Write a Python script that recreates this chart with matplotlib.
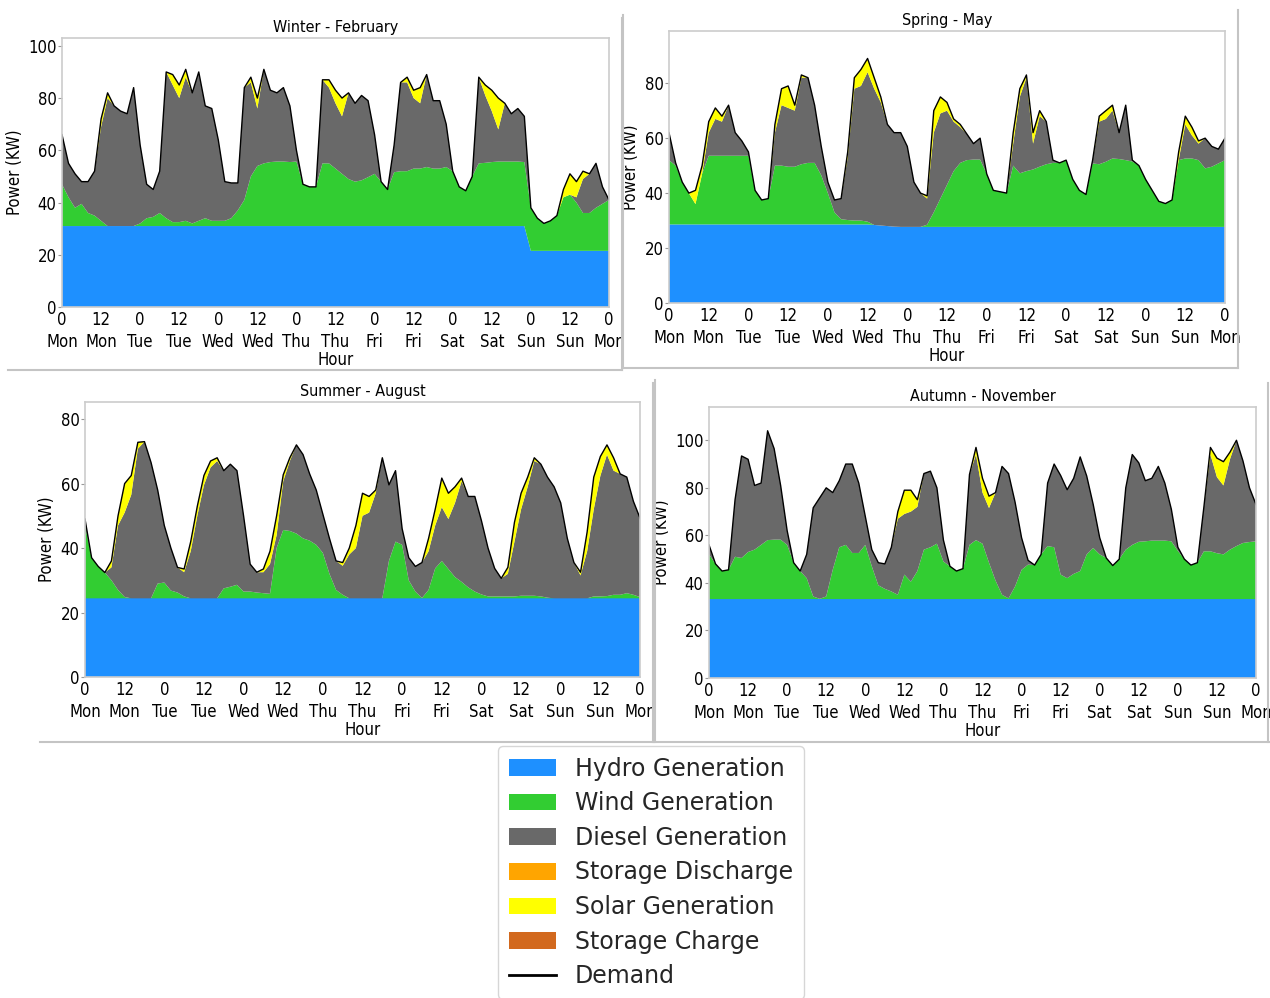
import numpy as np
import matplotlib.pyplot as plt
from matplotlib import font_manager
from matplotlib.patches import Patch
from matplotlib.lines import Line2D

# prefer a narrow face for the axis texts
narrow = [f for f in font_manager.fontManager.ttflist
          if f.name in ('Liberation Sans Narrow', 'DejaVu Sans') and 'condensed' in str(f.stretch)]
if narrow:
    plt.rcParams['font.family'] = [narrow[0].name]
    plt.rcParams['font.stretch'] = 'condensed'
else:
    plt.rcParams['font.family'] = ['Roboto', 'DejaVu Sans']

# two-hourly samples over one week (Mon 0h .. next Mon 0h)
hours = np.arange(0, 169, 2)
tick_hours = list(range(0, 169, 12))
tick_labels = ['0\nMon', '12\nMon', '0\nTue', '12\nTue', '0\nWed', '12\nWed', '0\nThu',
               '12\nThu', '0\nFri', '12\nFri', '0\nSat', '12\nSat', '0\nSun', '12\nSun', '0\nMon']

# ---- Winter - February ----
winter_hydro = [31, 31, 31, 31, 31, 31, 31, 31, 31, 31, 31, 31,
                31, 31, 31, 31, 31, 31, 31, 31, 31, 31, 31, 31,
                31, 31, 31, 31, 31, 31, 31, 31, 31, 31, 31, 31,
                31, 31, 31, 31, 31, 31, 31, 31, 31, 31, 31, 31,
                31, 31, 31, 31, 31, 31, 31, 31, 31, 31, 31, 31,
                31, 31, 31, 31, 31, 31, 31, 31, 31, 31, 31, 31,
                21.5, 21.5, 21.5, 21.5, 21.5, 21.5, 21.5, 21.5, 21.5, 21.5, 21.5, 21.5,
                21.5]
winter_wind = [16, 11, 7, 8.5, 5, 4, 2, 0, 0, 0, 0, 0,
               1, 3, 3.5, 5, 3, 1.5, 1.5, 2, 1, 2, 3, 2,
               2, 2, 3, 6, 10, 19, 23, 24, 24.5, 24.7, 24.7, 24.5,
               24.7, 16, 15, 15, 24, 24, 22, 20, 18, 17, 17.5, 18.7,
               20, 17, 14, 20.6, 21, 21, 22, 22, 22.6, 22, 22, 22.6,
               21, 15, 13.5, 19, 24, 24.2, 24.5, 24.7, 24.7, 24.7, 24.7, 24.5,
               16.5, 12.5, 10.5, 11.5, 13.5, 20.5, 21.5, 18.5, 14.5, 14.5, 16.5, 18,
               19.5]
winter_diesel = [19, 13, 13, 8.5, 12, 17, 36, 49, 46, 44, 43, 53,
                 30, 13, 10.5, 16, 56, 52.5, 47.5, 55, 50, 57, 43, 43,
                 31, 15, 13.5, 10.5, 43, 36, 22, 36, 27.5, 26.3, 28.3, 21.5,
                 4.3, 0, 0, 0, 32, 29, 25, 22, 33, 30, 32.5, 29.3,
                 15, 0, 0, 10.4, 34, 34, 27, 25, 35.4, 26, 26, 16.4,
                 0, 0, 0, 0, 33, 25.8, 19.5, 12.3, 22.3, 18.3, 20.3, 17.5,
                 0, 0, 0, 0, 0, 0, 0, 2, 13, 15, 17, 6.5,
                 0]
winter_solar = [0, 0, 0, 0, 0, 0, 3, 2, 0, 0, 0, 0,
                0, 0, 0, 0, 0, 4, 5, 3, 0, 0, 0, 0,
                0, 0, 0, 0, 0, 2, 4, 0, 0, 0, 0, 0,
                0, 0, 0, 0, 0, 3, 5, 7, 0, 0, 0, 0,
                0, 0, 0, 0, 0, 2, 3, 6, 0, 0, 0, 0,
                0, 0, 0, 0, 0, 4, 8, 12, 0, 0, 0, 0,
                0, 0, 0, 0, 0, 3, 8, 6, 3, 0, 0, 0,
                0]

# ---- Spring - May ----
spring_hydro = [28.6, 28.6, 28.6, 28.6, 28.6, 28.6, 28.6, 28.6, 28.6, 28.6, 28.6, 28.6,
                28.6, 28.6, 28.6, 28.6, 28.6, 28.6, 28.6, 28.6, 28.6, 28.6, 28.6, 28.6,
                28.6, 28.6, 28.6, 28.6, 28.6, 28.6, 28.6, 28.4, 28.2, 28.0, 27.8, 27.7,
                27.7, 27.7, 27.7, 27.7, 27.7, 27.7, 27.7, 27.7, 27.7, 27.7, 27.7, 27.7,
                27.7, 27.7, 27.7, 27.7, 27.7, 27.7, 27.7, 27.7, 27.7, 27.7, 27.7, 27.7,
                27.7, 27.7, 27.7, 27.7, 27.7, 27.7, 27.7, 27.7, 27.7, 27.7, 27.7, 27.7,
                27.7, 27.7, 27.7, 27.7, 27.7, 27.7, 27.7, 27.7, 27.7, 27.7, 27.7, 27.7,
                27.7]
spring_wind = [23.4, 21.4, 15.4, 11.4, 7.4, 18.4, 25, 25, 25, 25, 25, 25,
               25, 12.4, 8.9, 9.4, 21.4, 21.4, 21, 21, 21.9, 22.4, 22.4, 17.9,
               11.4, 4.4, 1.9, 1.6, 1.4, 1.4, 1.0, 0, 0, 0, 0, 0,
               0, 0, 0, 0.8, 5.3, 10.3, 15.3, 20.3, 23.3, 24.3, 24.5, 24.5,
               19.3, 13.3, 12.8, 12.3, 22.3, 19.5, 20.3, 20.9, 21.9, 22.8, 23.3, 23.3,
               24.3, 17.3, 13.3, 11.8, 23.1, 22.8, 23.7, 24.9, 24.7, 24.3, 23.8, 22.3,
               17.3, 13.3, 9.3, 8.5, 9.8, 24.3, 24.9, 24.9, 24.3, 21.3, 21.9, 23.1,
               24.3]
spring_diesel = [10, 1, 0, 0, 0, 0, 8.4, 13.4, 12.4, 18.4, 8.4, 5.4,
                 1.4, 0, 0, 0, 12, 22, 21.4, 20.4, 31.5, 31, 21, 10.5,
                 4, 4.5, 7.5, 22.8, 48, 49, 54.4, 49.6, 44.8, 37, 34.2, 34.3,
                 29.3, 16.3, 12.3, 9.5, 29, 31, 27, 18, 13, 9.5, 5.8, 7.8,
                 0, 0, 0, 0, 8, 27.8, 34, 9.4, 18.4, 15.5, 1, 0,
                 0, 0, 0, 0, 1.2, 15.5, 15.6, 17.4, 9.6, 20, 0.5, 0,
                 0, 0, 0, 0, 0, 0, 12.4, 8.4, 6, 11, 7.4, 5.2,
                 8]
spring_solar = [0, 0, 0, 0, 5, 3, 4, 4, 2, 0, 0, 0,
                0, 0, 0, 0, 3, 6, 8, 2, 1, 0, 0, 0,
                0, 0, 0, 2, 4, 6, 5, 4, 2, 0, 0, 0,
                0, 0, 0, 1, 8, 6, 3, 1, 1, 0, 0, 0,
                0, 0, 0, 0, 4, 3, 1, 4, 2, 0, 0, 0,
                0, 0, 0, 0, 0, 2, 3, 2, 0, 0, 0, 0,
                0, 0, 0, 0, 0, 3, 3, 3, 1, 0, 0, 0,
                0]

# ---- Summer - August ----
summer_hydro = [24.4, 24.4, 24.4, 24.4, 24.4, 24.4, 24.4, 24.4, 24.4, 24.4, 24.4, 24.4,
                24.4, 24.4, 24.4, 24.4, 24.4, 24.4, 24.4, 24.4, 24.4, 24.4, 24.4, 24.4,
                24.4, 24.4, 24.4, 24.4, 24.4, 24.4, 24.4, 24.4, 24.4, 24.4, 24.4, 24.4,
                24.4, 24.4, 24.4, 24.4, 24.4, 24.4, 24.4, 24.4, 24.4, 24.4, 24.4, 24.4,
                24.4, 24.4, 24.4, 24.4, 24.4, 24.4, 24.4, 24.4, 24.4, 24.4, 24.4, 24.4,
                24.4, 24.4, 24.4, 24.4, 24.4, 24.4, 24.4, 24.4, 24.4, 24.4, 24.4, 24.4,
                24.4, 24.4, 24.4, 24.4, 24.4, 24.4, 24.4, 24.4, 24.4, 24.4, 24.4, 24.4,
                24.4]
summer_wind = [22.6, 12.6, 9.9, 8, 5.6, 2.6, 0.4, 0, 0, 0, 0, 4.6,
               4.9, 2.4, 1.8, 0.6, 0, 0, 0, 0, 0, 3.1, 3.6, 4.2,
               2.1, 2.1, 1.8, 1.6, 1.4, 15.6, 21.2, 20.9, 20.1, 18.6, 17.9, 16.6,
               14.1, 7.6, 2.6, 1.1, 0, 0, 0, 0, 0, 0, 11.6, 17.6,
               16.6, 5.6, 2.1, 0.1, 2.6, 9.3, 11.6, 9.1, 6.6, 5.1, 3.4, 2.1,
               1.2, 0.6, 0.6, 0.6, 0.6, 0.6, 0.8, 0.8, 0.8, 0.6, 0.2, 0,
               0, 0, 0, 0, 0, 0.6, 0.6, 0.7, 1.1, 1.1, 1.6, 1.1,
               0.4]
summer_diesel = [2, 0, 0, 0, 4, 20, 26.2, 32.1, 46.4, 48.6, 42.1, 29,
                 17.7, 13.2, 7.8, 7.5, 14.6, 25.6, 35.1, 40.6, 42.6, 36.5, 38, 35.4,
                 23.5, 8.5, 6.3, 6.5, 9.2, 4, 15.1, 21.7, 27.5, 26, 20.7, 17,
                 12, 11, 9, 9, 13.6, 15.6, 25.6, 26.6, 32.6, 43.6, 23.6, 22,
                 5, 7, 7.8, 11, 12, 13.3, 16.7, 15.5, 23, 31.2, 28.2, 29.5,
                 22.9, 15, 8.7, 5.6, 7, 17, 26.8, 33.8, 41.8, 41, 37.4, 34.6,
                 29.6, 18.6, 11.1, 7.1, 14.6, 27, 37.4, 43.9, 38.5, 37.5, 36, 29,
                 24.5]
summer_solar = [0, 0, 0, 0, 2, 3, 9, 6, 2, 0, 0, 0,
                0, 0, 0, 1, 3, 3, 3, 2, 1, 0, 0, 0,
                0, 0, 0, 1, 4, 6, 2, 1, 0, 0, 0, 0,
                0, 0, 0, 1, 2, 7, 7, 5, 1, 0, 0, 0,
                0, 0, 0, 0, 4, 5, 9, 8, 5, 1, 0, 0,
                0, 0, 0, 0, 2, 6, 5, 3, 1, 0, 0, 0,
                0, 0, 0, 1, 6, 10, 6, 3, 4, 0, 0, 0,
                0]

# ---- Autumn - November ----
autumn_hydro = [33.2, 33.2, 33.2, 33.2, 33.2, 33.2, 33.2, 33.2, 33.2, 33.2, 33.2, 33.2,
                33.2, 33.2, 33.2, 33.2, 33.2, 33.2, 33.2, 33.2, 33.2, 33.2, 33.2, 33.2,
                33.2, 33.2, 33.2, 33.2, 33.2, 33.2, 33.2, 33.2, 33.2, 33.2, 33.2, 33.2,
                33.2, 33.2, 33.2, 33.2, 33.2, 33.2, 33.2, 33.2, 33.2, 33.2, 33.2, 33.2,
                33.2, 33.2, 33.2, 33.2, 33.2, 33.2, 33.2, 33.2, 33.2, 33.2, 33.2, 33.2,
                33.2, 33.2, 33.2, 33.2, 33.2, 33.2, 33.2, 33.2, 33.2, 33.2, 33.2, 33.2,
                33.2, 33.2, 33.2, 33.2, 33.2, 33.2, 33.2, 33.2, 33.2, 33.2, 33.2, 33.2,
                33.2]
autumn_wind = [18.8, 14.8, 11.8, 12.3, 17.8, 17.3, 19.8, 20.8, 22.8, 24.8, 25, 25,
               22.8, 15.3, 11.8, 8.8, 1.1, 0.1, 1.1, 12.3, 21.8, 22.8, 19.4, 19.4,
               22.8, 13.8, 5.8, 4.3, 3.2, 1.8, 10.3, 7.3, 11.8, 20.8, 21.8, 23.3,
               15.8, 13.8, 11.8, 12.8, 22.8, 24.8, 23.3, 15.3, 7.8, 1.8, 0.3, 5.3,
               12.3, 14.5, 14.3, 18.8, 22.3, 21.8, 10.3, 8.8, 10.6, 11.8, 18.8, 21.5,
               18.8, 17.3, 14.1, 16.8, 20.8, 22.8, 24.1, 24.3, 24.6, 24.6, 24.6, 24.3,
               20.3, 16.8, 14.3, 15.3, 20.1, 20.1, 19.3, 18.8, 20.8, 22.3, 23.6, 24,
               24.3]
autumn_diesel = [4, 0, 0, 0, 24, 42.9, 39, 27, 26, 46, 38.3, 22.8,
                 6, 0, 0, 10, 37.3, 42.5, 45.7, 32.5, 28, 34, 37.4, 29.4,
                 12, 7, 9.5, 10.5, 18.6, 32, 25.5, 29.5, 27, 32, 32, 23.5,
                 9, 0, 0, 0, 29.6, 36, 21.5, 23, 37, 54, 52.5, 35.5,
                 13.5, 1.8, 0, 0, 26.5, 35, 41.7, 37.2, 40.2, 48, 33, 18.3,
                 7, 0, 0, 0, 26, 38, 33.2, 25.5, 26.2, 31.2, 24.2, 13.5,
                 1.5, 0, 0, 0, 18.7, 40.7, 32, 29, 38, 44.5, 34.5, 22.8,
                 15.5]
autumn_solar = [0, 0, 0, 0, 0, 0, 0, 0, 0, 0, 0, 0,
                0, 0, 0, 0, 0, 0, 0, 0, 0, 0, 0, 0,
                0, 0, 0, 0, 0, 3, 10, 9, 3, 0, 0, 0,
                0, 0, 0, 0, 0, 3, 6, 5, 0, 0, 0, 0,
                0, 0, 0, 0, 0, 0, 0, 0, 0, 0, 0, 0,
                0, 0, 0, 0, 0, 0, 0, 0, 0, 0, 0, 0,
                0, 0, 0, 0, 0, 3, 8, 10, 3, 0, 0, 0,
                0]

colors = {'Hydro Generation': '#1e90ff', 'Wind Generation': '#32cd32',
          'Diesel Generation': '#696969', 'Storage Discharge': '#ffa500',
          'Solar Generation': '#ffff00', 'Storage Charge': '#d2691e'}

W, H = 1270, 998
fig = plt.figure(figsize=(W / 100, H / 100), dpi=100)


def px_axes(x0, y0, x1, y1):
    return fig.add_axes([x0 / W, 1 - y1 / H, (x1 - x0) / W, (y1 - y0) / H])


def draw_panel(ax, title, hydro, wind, diesel, solar, ytop, yticks):
    ax.stackplot(hours, hydro, wind, diesel, solar,
                 colors=[colors['Hydro Generation'], colors['Wind Generation'],
                         colors['Diesel Generation'], colors['Solar Generation']],
                 linewidth=0)
    demand = np.array(hydro) + np.array(wind) + np.array(diesel) + np.array(solar)
    ax.plot(hours, demand, color='black', lw=1)
    ax.set_xlim(0, 168)
    ax.set_ylim(0, ytop)
    ax.set_xticks(tick_hours)
    ax.set_xticklabels(tick_labels, fontsize=12, linespacing=1.3)
    ax.set_yticks(yticks)
    ax.tick_params(axis='y', labelsize=12, length=3, color='#999999', pad=1)
    ax.tick_params(axis='x', length=0, pad=3)
    for s in ax.spines.values():
        s.set_color('#cccccc')
        s.set_linewidth(1.2)
    ax.set_title(title, fontsize=11.5, pad=4)
    ax.set_xlabel('Hour', fontsize=12, labelpad=0)
    ax.set_ylabel('Power (KW)', fontsize=12, labelpad=3)


ax1 = px_axes(62, 38, 609, 307)
draw_panel(ax1, 'Winter - February', winter_hydro, winter_wind, winter_diesel, winter_solar,
           103, [0, 20, 40, 60, 80, 100])
ax2 = px_axes(669, 31, 1225, 303)
draw_panel(ax2, 'Spring - May', spring_hydro, spring_wind, spring_diesel, spring_solar,
           99, [0, 20, 40, 60, 80])
ax3 = px_axes(85, 402, 640, 677)
draw_panel(ax3, 'Summer - August', summer_hydro, summer_wind, summer_diesel, summer_solar,
           85.3, [0, 20, 40, 60, 80])
ax4 = px_axes(709, 407, 1256, 678)
draw_panel(ax4, 'Autumn - November', autumn_hydro, autumn_wind, autumn_diesel, autumn_solar,
           114, [0, 20, 40, 60, 80, 100])

# thin grey frames around each panel
frame_lines = [((8, 370), (622, 370)), ((622, 18), (622, 370)),
               ((623, 15), (623, 368)), ((1238, 10), (1238, 368)), ((623, 368), (1238, 368)),
               ((40, 742), (653, 742)), ((653, 383), (653, 742)),
               ((655, 380), (655, 742)), ((655, 742), (1270, 742)), ((1268, 383), (1268, 742))]
for (xa, ya), (xb, yb) in frame_lines:
    fig.add_artist(Line2D([xa / W, xb / W], [1 - ya / H, 1 - yb / H],
                          transform=fig.transFigure, color='#c4c4c4', lw=1.5))

handles = [Patch(facecolor=c, label=k) for k, c in colors.items()]
handles.append(Line2D([], [], color='black', lw=2, label='Demand'))
leg = fig.legend(handles=handles, loc='upper center', bbox_to_anchor=(651 / W, 1 - 746 / H),
                 prop={'family': 'DejaVu Sans', 'stretch': 'normal', 'size': 17}, frameon=True,
                 borderaxespad=0, labelspacing=0.45, handletextpad=0.8, borderpad=0.45)
leg.get_frame().set_edgecolor('#cccccc')
for t in leg.get_texts():
    t.set_color('#262626')

fig.savefig('out.png', dpi=100)
